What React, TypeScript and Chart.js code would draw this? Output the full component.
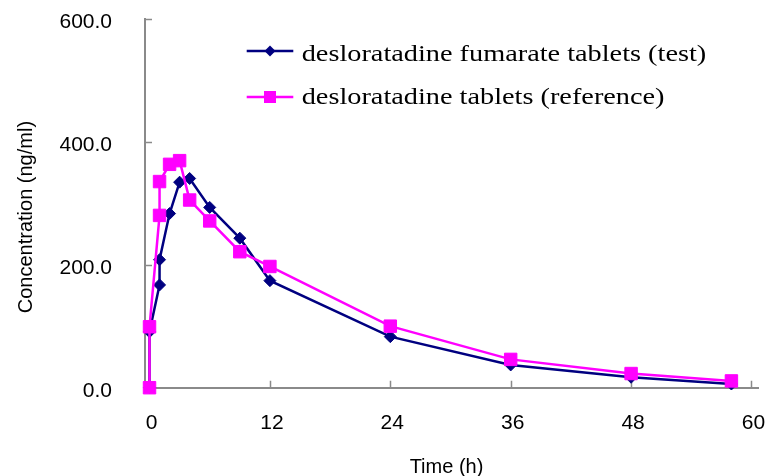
import React, { useEffect, useRef } from 'react';
import { Chart, registerables } from 'chart.js';

Chart.register(...registerables);

// ---- data ----
const testTimes = [0, 0, 1, 1, 2, 3, 4, 6, 9, 12, 24, 36, 48, 58];
const testConc = [0, 91, 167, 208, 283, 334, 340, 293, 243, 174, 83, 37, 17, 6];
const refTimes = [0, 0, 1, 1, 2, 3, 4, 6, 9, 12, 24, 36, 48, 58];
const refConc = [0, 99, 280, 335, 363, 369, 305, 271, 221, 197, 100, 46, 23, 11];
const xTicks = [0, 12, 24, 36, 48, 60];
const yTicks = [0, 200, 400, 600];
const seriesNames = ['desloratadine fumarate tablets (test)', 'desloratadine tablets (reference)'];
const xTitle = 'Time (h)';
const yTitle = 'Concentration (ng/ml)';

const NAVY = '#000080';
const MAGENTA = '#ff00ff';
const AXIS = '#8a8a8a';
const SANS = '"Liberation Sans", Arial, sans-serif';
const SERIF = '"Liberation Serif", "Times New Roman", serif';

const decorPlugin = {
  id: 'decor',
  beforeDatasetsDraw(chart: any) {
    const { ctx, chartArea, scales } = chart;
    const x = scales.x;
    const y = scales.y;
    ctx.save();
    ctx.strokeStyle = AXIS;
    ctx.lineWidth = 1.5;
    ctx.beginPath();
    xTicks.forEach((v) => {
      if (v === 0) return;
      const px = Math.round(x.getPixelForValue(v)) + 0.5;
      ctx.moveTo(px, chartArea.bottom);
      ctx.lineTo(px, chartArea.bottom - 7);
    });
    yTicks.forEach((v) => {
      if (v === 0) return;
      const py = Math.round(y.getPixelForValue(v)) + 0.5;
      ctx.moveTo(chartArea.left, py);
      ctx.lineTo(chartArea.left + 7, py);
    });
    ctx.stroke();
    ctx.restore();
  },
  afterDraw(chart: any) {
    const { ctx, chartArea } = chart;
    ctx.save();
    // axis titles
    ctx.fillStyle = '#000';
    ctx.font = `20px ${SANS}`;
    ctx.textAlign = 'center';
    ctx.textBaseline = 'alphabetic';
    ctx.fillText(xTitle, (chartArea.left + chartArea.right) / 2 - 5, 473);
    ctx.save();
    ctx.translate(32, (chartArea.top + chartArea.bottom) / 2 + 14);
    ctx.rotate(-Math.PI / 2);
    ctx.fillText(yTitle, 0, 0);
    ctx.restore();

    // legend inside plot
    const rows = [
      { cy: 51, base: 60.5 },
      { cy: 97, base: 104 },
    ];
    chart.data.datasets.forEach((ds: any, i: number) => {
      const r = rows[i];
      const x0 = 246.7;
      const x1 = 293.3;
      const mx = 270;
      ctx.strokeStyle = ds.borderColor;
      ctx.fillStyle = ds.borderColor;
      ctx.lineWidth = 2.5;
      ctx.beginPath();
      ctx.moveTo(x0, r.cy);
      ctx.lineTo(x1, r.cy);
      ctx.stroke();
      ctx.beginPath();
      if (ds.pointStyle === 'rectRot') {
        const s = 5.5;
        ctx.moveTo(mx, r.cy - s);
        ctx.lineTo(mx + s, r.cy);
        ctx.lineTo(mx, r.cy + s);
        ctx.lineTo(mx - s, r.cy);
        ctx.closePath();
      } else {
        const h = 6;
        ctx.rect(mx - h, r.cy - h, 2 * h, 2 * h);
      }
      ctx.fill();
      ctx.save();
      ctx.translate(301.7, r.base);
      ctx.scale(1.23, 1);
      ctx.fillStyle = '#000';
      ctx.font = `23px ${SERIF}`;
      ctx.textAlign = 'left';
      ctx.textBaseline = 'alphabetic';
      ctx.fillText(ds.label, 0, 0);
      ctx.restore();
    });
    ctx.restore();
  },
};

export default function App() {
  const canvasRef = useRef<HTMLCanvasElement | null>(null);

  useEffect(() => {
    const canvas = canvasRef.current;
    if (!canvas) return;
    const chart = new Chart(canvas, {
      type: 'line',
      data: {
        datasets: [
          {
            label: seriesNames[0],
            data: testTimes.map((t, i) => ({ x: t, y: testConc[i] })),
            borderColor: NAVY,
            backgroundColor: NAVY,
            borderWidth: 2.5,
            pointStyle: 'rectRot',
            pointRadius: 6,
            pointBorderWidth: 1,
            pointBackgroundColor: NAVY,
            pointBorderColor: NAVY,
            tension: 0,
            clip: false as any,
            order: 2,
          },
          {
            label: seriesNames[1],
            data: refTimes.map((t, i) => ({ x: t, y: refConc[i] })),
            borderColor: MAGENTA,
            backgroundColor: MAGENTA,
            borderWidth: 2.5,
            pointStyle: 'rect',
            pointRadius: 8.8,
            pointBorderWidth: 1,
            pointBackgroundColor: MAGENTA,
            pointBorderColor: MAGENTA,
            tension: 0,
            clip: false as any,
            order: 1,
          },
        ],
      },
      options: {
        responsive: false,
        animation: false,
        devicePixelRatio: 1,
        layout: { padding: { top: 18.5, right: 10, left: 0, bottom: 0 } },
        plugins: {
          legend: { display: false },
          tooltip: { enabled: false },
        },
        scales: {
          x: {
            type: 'linear',
            min: -0.45,
            max: 60.65,
            afterBuildTicks: (s: any) => {
              s.ticks = xTicks.map((v) => ({ value: v }));
            },
            afterFit: (s: any) => {
              s.height = 88.3;
              s.paddingLeft = 0;
              s.paddingRight = 0;
            },
            grid: { display: true, drawOnChartArea: false, drawTicks: false },
            border: { display: true, color: AXIS, width: 2 },
            ticks: {
              padding: 23,
              labelOffset: 2,
              autoSkip: false,
              maxRotation: 0,
              color: '#000',
              font: { family: SANS, size: 21 },
              callback: (v: any) => String(v),
            },
          },
          y: {
            type: 'linear',
            min: 0,
            max: 600,
            afterBuildTicks: (s: any) => {
              s.ticks = yTicks.map((v) => ({ value: v }));
            },
            afterFit: (s: any) => {
              s.width = 145;
              s.paddingTop = 0;
              s.paddingBottom = 0;
            },
            grid: { display: true, drawOnChartArea: false, drawTicks: false },
            border: { display: true, color: AXIS, width: 2 },
            ticks: {
              padding: 33,
              labelOffset: 4,
              color: '#000',
              font: { family: SANS, size: 21 },
              callback: (v: any) => Number(v).toFixed(1),
            },
          },
        },
      },
      plugins: [decorPlugin],
    });
    return () => chart.destroy();
  }, []);

  return (
    <div style={{ position: 'absolute', left: 0, top: 0, width: 768, height: 476, background: '#fff' }}>
      <canvas ref={canvasRef} width={768} height={476} style={{ display: 'block', width: 768, height: 476 }} />
    </div>
  );
}
